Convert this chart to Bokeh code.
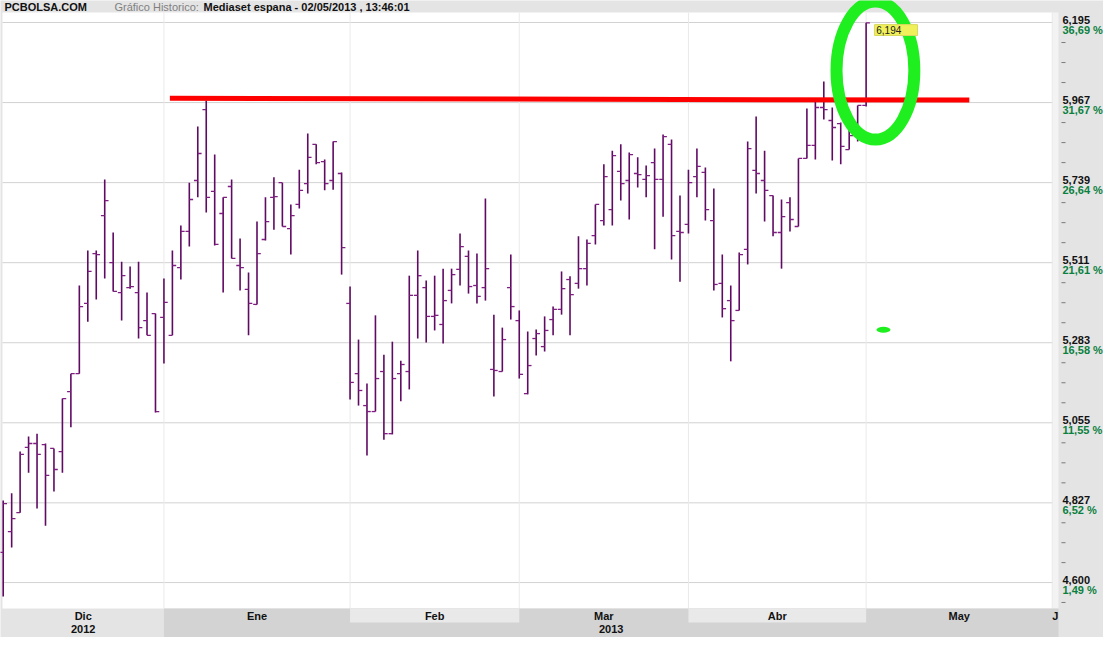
from bokeh.plotting import figure
from bokeh.models import Range1d, ColumnDataSource
from bokeh.core.properties import value
from bokeh.embed import file_html
from bokeh.resources import INLINE

# ---------------- data (daily OHLC, Mediaset España, 3 Dec 2012 .. 2 May 2013) ----------------
opens = [4.686, 4.745, 4.799, 4.985, 4.996, 4.993, 4.982, 4.973, 5.144, 5.195,
         5.395, 5.537, 5.645, 5.511, 5.426, 5.440, 5.426, 5.346, 5.366, 5.355,
         5.304, 5.497, 5.600, 5.745, 5.947, 5.714, 5.651, 5.728, 5.503, 5.435,
         5.392, 5.577, 5.697, 5.739, 5.608, 5.677, 5.736, 5.848, 5.799, 5.745,
         5.765, 5.395, 5.195, 5.104, 5.087, 5.201, 5.024, 5.195, 5.201, 5.418,
         5.440, 5.358, 5.335, 5.432, 5.492, 5.529, 5.446, 5.440, 5.207, 5.201,
         5.440, 5.346, 5.138, 5.295, 5.272, 5.349, 5.378, 5.463, 5.452, 5.494,
         5.588, 5.631, 5.662, 5.771, 5.745, 5.765, 5.748, 5.796, 5.748, 5.848,
         5.600, 5.620, 5.756, 5.768, 5.631, 5.452, 5.403, 5.375, 5.549, 5.774,
         5.745, 5.702, 5.597, 5.682, 5.614, 5.808, 5.845, 5.953, 5.916, 5.907,
         5.833, 5.873, 5.959]
highs = [4.834, 4.854, 4.973, 5.016, 5.024, 4.996, 4.982, 5.124, 5.195, 5.446,
         5.546, 5.546, 5.748, 5.597, 5.514, 5.500, 5.514, 5.426, 5.366, 5.466,
         5.546, 5.617, 5.739, 5.899, 5.973, 5.819, 5.697, 5.748, 5.580, 5.483,
         5.628, 5.697, 5.754, 5.739, 5.677, 5.776, 5.879, 5.848, 5.805, 5.856,
         5.768, 5.443, 5.292, 5.167, 5.361, 5.249, 5.286, 5.232, 5.474, 5.546,
         5.460, 5.474, 5.494, 5.494, 5.594, 5.546, 5.537, 5.694, 5.363, 5.326,
         5.534, 5.375, 5.315, 5.321, 5.358, 5.386, 5.486, 5.472, 5.586, 5.577,
         5.677, 5.791, 5.830, 5.848, 5.825, 5.811, 5.788, 5.836, 5.876, 5.862,
         5.702, 5.776, 5.836, 5.782, 5.722, 5.534, 5.446, 5.540, 5.856, 5.927,
         5.830, 5.702, 5.691, 5.697, 5.808, 5.950, 5.970, 6.027, 5.953, 5.910,
         5.890, 5.959, 6.194]
lows = [4.560, 4.700, 4.799, 4.913, 4.811, 4.762, 4.859, 4.913, 5.042, 5.195,
        5.343, 5.406, 5.466, 5.429, 5.346, 5.437, 5.295, 5.304, 5.084, 5.224,
        5.304, 5.463, 5.557, 5.697, 5.654, 5.560, 5.426, 5.523, 5.432, 5.304,
        5.392, 5.574, 5.605, 5.614, 5.534, 5.665, 5.708, 5.791, 5.717, 5.719,
        5.477, 5.121, 5.104, 4.962, 5.087, 5.007, 5.022, 5.116, 5.150, 5.295,
        5.284, 5.318, 5.281, 5.395, 5.446, 5.423, 5.395, 5.403, 5.130, 5.201,
        5.349, 5.181, 5.136, 5.247, 5.258, 5.304, 5.363, 5.304, 5.437, 5.446,
        5.563, 5.617, 5.617, 5.688, 5.634, 5.725, 5.697, 5.549, 5.642, 5.520,
        5.457, 5.594, 5.697, 5.631, 5.432, 5.355, 5.230, 5.375, 5.506, 5.708,
        5.628, 5.586, 5.494, 5.600, 5.614, 5.808, 5.805, 5.919, 5.802, 5.791,
        5.833, 5.856, 5.956]
closes = [4.825, 4.782, 4.965, 4.996, 4.965, 4.905, 4.922, 5.124, 5.195, 5.386,
          5.486, 5.534, 5.688, 5.429, 5.474, 5.443, 5.326, 5.304, 5.087, 5.398,
          5.503, 5.600, 5.691, 5.822, 5.697, 5.563, 5.697, 5.523, 5.497, 5.395,
          5.537, 5.628, 5.699, 5.614, 5.645, 5.717, 5.811, 5.796, 5.736, 5.856,
          5.554, 5.170, 5.147, 5.087, 5.181, 5.024, 5.181, 5.221, 5.418, 5.474,
          5.358, 5.361, 5.403, 5.477, 5.557, 5.443, 5.415, 5.494, 5.204, 5.292,
          5.386, 5.193, 5.218, 5.309, 5.318, 5.378, 5.437, 5.420, 5.494, 5.566,
          5.677, 5.756, 5.816, 5.736, 5.819, 5.762, 5.759, 5.748, 5.870, 5.588,
          5.597, 5.739, 5.785, 5.662, 5.449, 5.380, 5.346, 5.534, 5.836, 5.765,
          5.717, 5.597, 5.642, 5.634, 5.808, 5.845, 5.953, 5.947, 5.896, 5.842,
          5.873, 5.959, 6.194]

# right-hand scale
tick_values = [4.600, 4.827, 5.055, 5.283, 5.511, 5.739, 5.967, 6.195]
tick_labels = ["4,600", "4,827", "5,055", "5,283", "5,511", "5,739", "5,967", "6,195"]
pct_labels = ["1,49 %", "6,52 %", "11,55 %", "16,58 %", "21,61 %", "26,64 %", "31,67 %", "36,69 %"]

# time scale (trading-day index of first session of each month)
month_names = ["Dic", "Ene", "Feb", "Mar", "Abr", "May", "J"]
month_first_bar = [19, 41, 61, 81, 102, 124]
year_names = ["2012", "2013"]
last_label = "6,194"

# annotations drawn by the chart's author
resistance_x = [19.7, 114.2]
resistance_y = [5.979, 5.974]

# ---------------- layout helpers ----------------
X0, X1 = -0.319, 130.06          # visible trading-day range (whole canvas)
Y0, Y1 = 4.4435, 6.2577          # visible price range (incl. header & date band)
PLOT_TOP, PLOT_BOTTOM = 6.2235, 4.5261
ROW_SPLIT = 4.4862
PLOT_LEFT, PLOT_RIGHT, AREA_RIGHT = -0.083, 124.03, 124.74
LABEL_X = 125.21
DASH_X0, DASH_X1 = 125.09, 125.57

BG = "#E4E4E4"
DARK_BAND = "#D3D3D3"
LIGHT_BAND = "#E9E9E9"
BAR = "#5F0A63"
TICK = "#7E1E80"
GREEN = "#1FEF1F"
FONT = value("Liberation Sans")

p = figure(width=1103, height=637, output_backend="svg", toolbar_location=None,
           x_range=Range1d(X0, X1), y_range=Range1d(Y0, Y1),
           x_axis_location=None, y_axis_location=None,
           min_border_left=0, min_border_top=0, min_border_bottom=0, min_border_right=0,
           background_fill_color=BG, border_fill_color=BG, outline_line_color=None)
p.grid.visible = False

# white chart area
p.quad(left=[PLOT_LEFT], right=[PLOT_RIGHT], bottom=[PLOT_BOTTOM], top=[PLOT_TOP],
       fill_color="white", line_color=None)
p.quad(left=[PLOT_RIGHT], right=[AREA_RIGHT], bottom=[PLOT_BOTTOM], top=[PLOT_TOP],
       fill_color="#F3F3F3", line_color=None)

# grid
p.segment(x0=[PLOT_LEFT] * len(tick_values), x1=[PLOT_RIGHT] * len(tick_values),
          y0=tick_values, y1=tick_values, line_color="#D2D2D2", line_width=1)
p.segment(x0=month_first_bar, x1=month_first_bar,
          y0=[PLOT_BOTTOM] * len(month_first_bar), y1=[PLOT_TOP] * len(month_first_bar),
          line_color="#EAEAEA", line_width=1)

# date band
edges = [PLOT_LEFT] + month_first_bar + [AREA_RIGHT]
p.quad(left=[month_first_bar[0]], right=[AREA_RIGHT], bottom=[Y0], top=[PLOT_BOTTOM],
       fill_color=DARK_BAND, line_color=None)
light_l = [edges[k] for k in (2, 4)]
light_r = [edges[k + 1] for k in (2, 4)]
p.quad(left=light_l, right=light_r, bottom=[ROW_SPLIT] * 2, top=[PLOT_BOTTOM] * 2,
       fill_color=LIGHT_BAND, line_color=None)
month_mid = [(edges[k] + edges[k + 1]) / 2 for k in range(len(month_names))]
p.text(x=month_mid, y=[(ROW_SPLIT + PLOT_BOTTOM) / 2] * len(month_names), text=month_names,
       text_font=FONT, text_font_style="bold", text_font_size="11px",
       text_align="center", text_baseline="middle", text_color="#111111")
year_mid = [(edges[0] + edges[1]) / 2, (edges[1] + AREA_RIGHT) / 2]
p.text(x=year_mid, y=[(Y0 + ROW_SPLIT) / 2 + 0.002] * 2, text=year_names,
       text_font=FONT, text_font_style="bold", text_font_size="11px",
       text_align="center", text_baseline="middle", text_color="#111111")

# header
p.text(x=[0.154], y=[6.2406], text=["PCBOLSA.COM"], text_font=FONT,
       text_font_style="bold", text_font_size="11px", text_baseline="middle", text_color="#111111")
p.text(x=[13.15], y=[6.2406], text=["Gráfico Historico:"], text_font=FONT,
       text_font_size="11px", text_baseline="middle", text_color="#808080")
p.text(x=[23.68], y=[6.2406], text=["Mediaset espana - 02/05/2013 , 13:46:01"],
       text_font=FONT, text_font_style="bold", text_font_size="11px",
       text_baseline="middle", text_color="#111111")

# OHLC bars
n = len(closes)
idx = list(range(n))
src = ColumnDataSource(dict(x=idx, o=opens, h=highs, l=lows, c=closes,
                            xl=[i - 0.45 for i in idx], xr=[i + 0.45 for i in idx]))
p.segment(x0="x", y0="l", x1="x", y1="h", source=src, line_color=BAR, line_width=1.6)
p.segment(x0="xl", y0="o", x1="x", y1="o", source=src, line_color=TICK, line_width=1.3)
p.segment(x0="x", y0="c", x1="xr", y1="c", source=src, line_color=TICK, line_width=1.3)

# hand-drawn annotations
p.line(x=resistance_x, y=resistance_y, line_color="#FF0000", line_width=5)
p.ellipse(x=[103.1], y=[6.058], width=[9.2], height=[0.393], fill_color=None,
          line_color=GREEN, line_width=12)
p.ellipse(x=[104.05], y=[5.320], width=[1.65], height=[0.017], fill_color=GREEN, line_color=None)

# last-price flag
p.quad(left=[n - 1 + 1.0], right=[n - 1 + 6.07], bottom=[closes[-1] - 0.036], top=[closes[-1] - 0.005],
       fill_color="#F0F05A", line_color="#D8D860", line_width=1)
p.text(x=[n - 1 + 1.2], y=[closes[-1] - 0.0205], text=[last_label], text_font=FONT,
       text_font_size="10px", text_baseline="middle", text_color="#222222")

# right-hand scale: minor dashes + two-line labels
minor = []
for a, b in zip(tick_values[:-1], tick_values[1:]):
    step = (b - a) / 4
    minor += [a + step, a + 2 * step, a + 3 * step]
minor.append(tick_values[0] - (tick_values[1] - tick_values[0]) / 4)
p.segment(x0=[DASH_X0] * len(minor), x1=[DASH_X1] * len(minor), y0=minor, y1=minor,
          line_color="#7A7A7A", line_width=1)
p.text(x=[LABEL_X] * len(tick_values), y=tick_values, text=tick_labels, text_font=FONT,
       text_font_style="bold", text_font_size="11px", text_baseline="middle",
       y_offset=-3, text_color="#111111")
p.text(x=[LABEL_X] * len(tick_values), y=tick_values, text=pct_labels, text_font=FONT,
       text_font_style="bold", text_font_size="11px", text_baseline="middle",
       y_offset=7, text_color="#0A8040")

open("out.html", "w").write(file_html(p, INLINE))
